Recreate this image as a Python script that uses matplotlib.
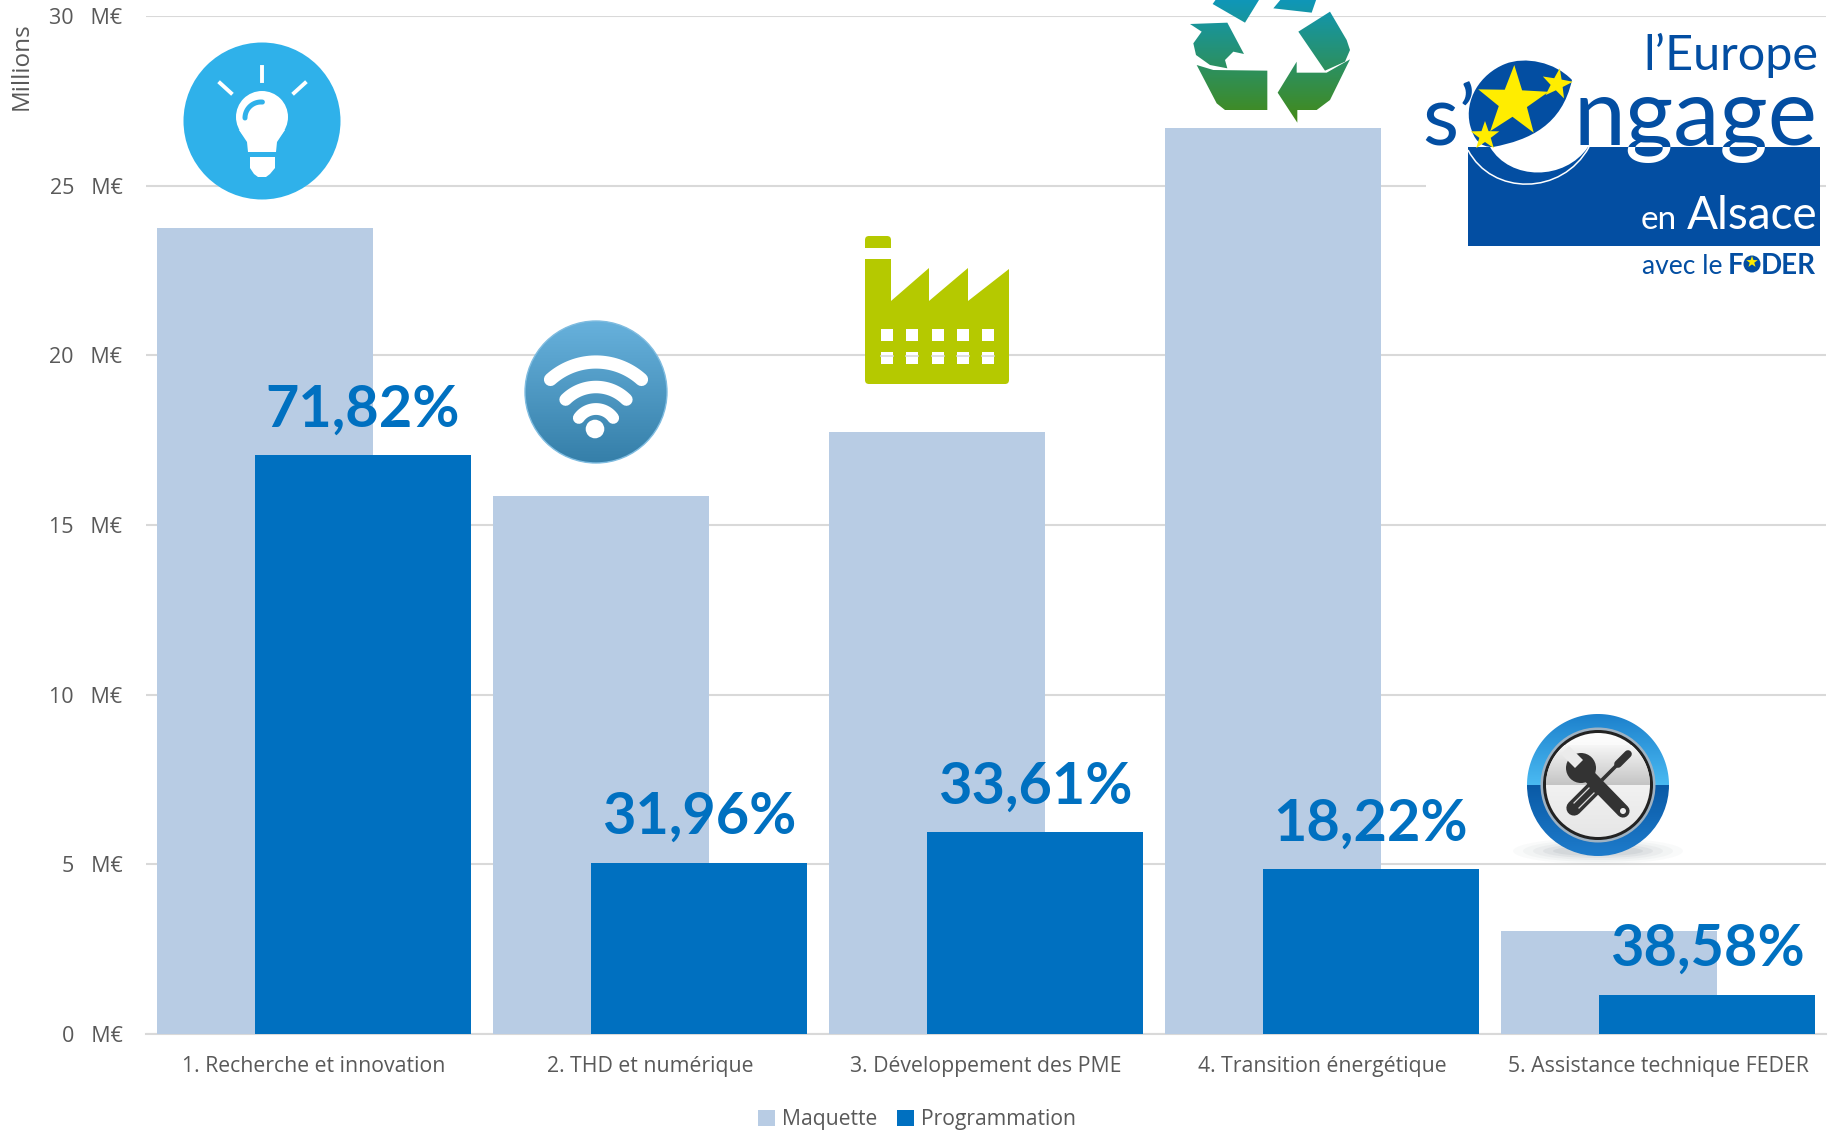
"""Maquette vs programmation FEDER par axe, with hand-drawn icons and logo."""
import matplotlib

matplotlib.use("Agg")
import matplotlib.pyplot as plt  # noqa: E402
import numpy as np  # noqa: E402
from matplotlib.patches import Circle, Ellipse, FancyBboxPatch, PathPatch, Polygon, Rectangle  # noqa: E402
from matplotlib.path import Path  # noqa: E402

CATEGORIES = ["1. Recherche et innovation", "2. THD et numérique", "3. Développement des PME",
              "4. Transition énergétique", "5. Assistance technique FEDER"]
MAQUETTE = [23.75, 15.85, 17.75, 26.7, 3.03]
PROGRAMMATION = [17.07, 5.05, 5.95, 4.87, 1.16]
TAUX = ["71,82%", "31,96%", "33,61%", "18,22%", "38,58%"]
YTICKS = [0, 5, 10, 15, 20, 25, 30]

FONT = "Open Sans"
GREY = "#595959"
LIGHT = "#B8CCE4"
DARK = "#0070C0"
LOGO = "#034EA2"
YELLOW = "#FFED00"

W, H = 1832, 1130
plt.rcParams["font.family"] = [FONT, "DejaVu Sans"]


def gradient(ax, x0, x1, y0, y1, top, bottom, clip, zorder=3):
    """Vertical colour gradient clipped to a patch, in overlay pixel coords."""
    c0, c1 = np.array(matplotlib.colors.to_rgb(top)), np.array(matplotlib.colors.to_rgb(bottom))
    t = np.linspace(0, 1, 128)[:, None, None]
    img = c0[None, None, :] * (1 - t) + c1[None, None, :] * t
    clip.set_facecolor("none")
    clip.set_edgecolor("none")
    ax.add_patch(clip)
    im = ax.imshow(img, extent=(x0, x1, y1, y0), aspect="auto", zorder=zorder)
    im.set_clip_path(clip)


def half_disc(cx, cy, r):
    """Upper half of a disc (the overlay y axis points down)."""
    th = np.linspace(np.pi, 2 * np.pi, 80)
    return Polygon(np.c_[cx + r * np.cos(th), cy + r * np.sin(th)])


def star(ax, cx, cy, r, color=YELLOW, rot=0.0, zorder=5):
    a = np.deg2rad(rot - 90 + np.arange(10) * 36)
    rad = np.where(np.arange(10) % 2 == 0, r, r * 0.4)
    ax.add_patch(Polygon(np.c_[cx + rad * np.cos(a), cy + rad * np.sin(a)], fc=color, ec="none", zorder=zorder))


def draw_bulb(ax):
    cx, cy = 262, 121
    ax.add_patch(Circle((cx, cy), 78.5, fc="#2FB1EA", ec="none", zorder=3))
    ax.add_patch(Circle((cx, 117), 26, fc="white", ec="none", zorder=4))
    ax.add_patch(Polygon([(239, 130), (285, 130), (277, 142), (276, 152), (248, 152), (247, 142)],
                         fc="white", ec="none", zorder=4))
    ax.add_patch(Polygon([(250, 157), (275, 157), (275, 168), (270, 174), (266, 177), (258, 177), (254, 174), (250, 168)],
                         fc="white", ec="none", zorder=4))
    th = np.deg2rad(np.linspace(180, 275, 30))
    ax.plot(cx + 16 * np.cos(th) - 1, 118 + 16 * np.sin(th), color="#2FB1EA", lw=3.6, solid_capstyle="round", zorder=5)
    for seg in [((262, 67), (262, 81)), ((220, 83), (231, 93)), ((305, 83), (294, 93))]:
        ax.plot(*zip(*seg), color="white", lw=2.8, zorder=4)


def draw_wifi(ax):
    cx, cy = 596, 430
    gradient(ax, 525, 667, 321, 463, "#67B1DC", "#357FA9", Circle((596, 392), 71))
    ax.add_patch(Circle((596, 392), 71, fc="none", ec="#7FBCE0", lw=1, zorder=4))
    for r, lw, a0 in [(68, 9.5, 228), (43, 9, 225), (21, 8.5, 215)]:
        th = np.deg2rad(np.linspace(a0, 540 - a0, 40))
        ax.plot(cx + r * np.cos(th), cy + r * np.sin(th), color="white", lw=lw, solid_capstyle="round", zorder=5)
    ax.add_patch(Circle((595, 429), 9.3, fc="white", ec="none", zorder=5))


def draw_factory(ax):
    col = "#B5C900"
    pts = [(865, 259), (891, 259), (891, 301), (929, 268), (929, 301), (968, 268), (968, 301), (1009, 269),
           (1009, 372), (865, 372)]
    ax.add_patch(Polygon(pts, fc=col, ec="none", zorder=3))
    ax.add_patch(FancyBboxPatch((869, 350), 136, 30, boxstyle="round,pad=4", fc=col, ec="none", zorder=3))
    ax.add_patch(FancyBboxPatch((869, 240), 18, 4, boxstyle="round,pad=4", fc=col, ec="none", zorder=3))
    ax.add_patch(Rectangle((865, 243), 26, 5, fc=col, ec="none", zorder=3))
    for wx in [881, 906, 932, 957, 982]:
        for wy in [329, 352]:
            ax.add_patch(Rectangle((wx, wy), 12, 11.5, fc="white", ec="none", zorder=4))
        ax.plot([wx, wx + 12], [356, 356], color="#D9D9D9", lw=1.2, zorder=4.1)


def draw_recycle(ax):
    pieces = [
        [(128, 12), (140, -5), (270, -5), (225, 68)],
        [(310, 25), (335, -5), (440, -5), (425, 38)],
        [(60, 72), (172, 68), (222, 162), (190, 155), (165, 180), (172, 205), (120, 195), (78, 165), (70, 130), (95, 95)],
        [(80, 195), (130, 210), (292, 212), (292, 330), (165, 330), (140, 310)],
        [(385, 95), (480, 35), (530, 120), (540, 150), (525, 185), (465, 212)],
        [(380, 185), (380, 218), (470, 218), (540, 178), (480, 300), (440, 330), (382, 330), (382, 368), (323, 278)],
    ]
    for p in pieces:
        pts = [(1170 + px / 3, py / 3) for px, py in p]
        gradient(ax, 1190, 1355, 0, 125, "#0F97B8", "#458A14", Polygon(pts))


def draw_tools(ax):
    cx, cy = 1598, 785
    for rx, ry, a in [(85, 13, 0.03), (75, 11, 0.04), (65, 9, 0.05), (55, 7, 0.07), (45, 5, 0.09)]:
        ax.add_patch(Ellipse((cx, 851), 2 * rx, 2 * ry, fc="#5A6A7A", ec="none", alpha=a, zorder=3))
    # ring: two-tone glossy blue, sharp change at mid height
    gradient(ax, cx - 72, cx + 72, cy, cy + 72, "#0A5AA6", "#1E7CCC", Circle((cx, cy), 71), zorder=4)
    gradient(ax, cx - 72, cx + 72, cy - 72, cy, "#1C80CC", "#4ABAF2", half_disc(cx, cy, 71), zorder=4.2)
    ax.add_patch(Circle((cx, cy), 57.5, fc="#9FB2C2", ec="none", zorder=5))
    ax.add_patch(Circle((cx, cy), 55, fc="#222222", ec="none", zorder=5.05))
    gradient(ax, cx - 54, cx + 54, cy - 53, cy + 53, "#FDFDFD", "#E6E6E6", Circle((cx, cy), 52), zorder=5.1)
    gradient(ax, cx - 54, cx + 54, cy - 40, cy, "#F6F6F6", "#C4C4C4", half_disc(cx, cy, 52), zorder=5.2)
    dark = "#333333"
    # screwdriver
    ax.plot([1603, 1624], [779, 758], color=dark, lw=2.6, zorder=6)
    ax.plot([1618, 1628], [764, 754], color=dark, lw=5.5, solid_capstyle="round", zorder=6)
    ax.plot([1574, 1594], [808, 788], color=dark, lw=11, solid_capstyle="round", zorder=6)
    ax.plot([1574, 1589], [803, 788], color="#DDDDDD", lw=0.9, zorder=6.1)
    ax.plot([1579, 1594], [808, 793], color="#DDDDDD", lw=0.9, zorder=6.1)
    # wrench
    ax.plot([1585, 1623], [772, 811], color=dark, lw=9.5, solid_capstyle="round", zorder=6.2)
    ax.add_patch(Circle((1581, 768), 15, fc=dark, ec="none", zorder=6.2))
    ax.add_patch(Polygon([(1583, 760), (1575, 768), (1561, 754), (1569, 746)], fc="#EBEBEB", ec="none", zorder=6.3))
    ax.add_patch(Circle((1623, 811), 3, fc="#EEEEEE", ec="none", zorder=6.4))


def draw_logo(ax):
    logo_font = ["Lato", "DejaVu Sans"]
    ax.add_patch(Rectangle((1426, 24), 394, 270, fc="white", ec="none", zorder=2.5))
    ax.add_patch(Rectangle((1468, 147), 352, 99, fc=LOGO, ec="none", zorder=3))
    ax.text(1818, 70, "l’Europe", color=LOGO, fontsize=35, ha="right", va="baseline", zorder=6, family=logo_font)
    ax.text(1476, 145, "s’", color=LOGO, fontsize=60, ha="right", va="baseline", zorder=6, family=logo_font)
    above = Rectangle((1426, 24), 394, 123, transform=ax.transData)
    below = Rectangle((1426, 147), 394, 99, transform=ax.transData)
    for clip, col in [(above, LOGO), (below, "white")]:
        t = ax.text(1817, 145, "ngage", color=col, fontsize=67, ha="right", va="baseline", zorder=6, family=logo_font)
        t.set_clip_path(clip)
        t.set_clip_on(True)
    # white part of the e and the thin outer line under it
    inner = Path([(1490, 147), (1510, 181), (1565, 181), (1588, 147), (1490, 147)],
                 [Path.MOVETO, Path.CURVE4, Path.CURVE4, Path.CURVE4, Path.CLOSEPOLY])
    ax.add_patch(PathPatch(inner, fc="white", ec="none", zorder=4))
    outer = Path([(1468, 150), (1492, 196), (1562, 196), (1589, 147)],
                 [Path.MOVETO, Path.CURVE4, Path.CURVE4, Path.CURVE4])
    ax.add_patch(PathPatch(outer, fc="none", ec="white", lw=1.1, zorder=4))
    leaf = Path([(1572, 80), (1555, 62), (1525, 56), (1505, 64), (1480, 74), (1464, 100), (1470, 125),
                 (1474, 140), (1480, 147), (1493, 147), (1530, 140), (1562, 125), (1572, 80), (1572, 80)],
                [Path.MOVETO, Path.CURVE4, Path.CURVE4, Path.CURVE4, Path.CURVE4, Path.CURVE4, Path.CURVE4,
                 Path.CURVE4, Path.CURVE4, Path.CURVE4, Path.CURVE4, Path.CURVE4, Path.CURVE4, Path.CLOSEPOLY])
    ax.add_patch(PathPatch(leaf, fc=LOGO, ec="none", zorder=5))
    star(ax, 1513, 102, 37, rot=2, zorder=5.5)
    star(ax, 1557, 84, 16, rot=10, zorder=5.5)
    star(ax, 1485, 136, 15, rot=0, zorder=5.5)
    ax.text(1677, 229, "en", color="white", fontsize=24, ha="right", va="baseline", zorder=6, family=logo_font)
    ax.text(1817, 229, "Alsace", color="white", fontsize=33, ha="right", va="baseline", zorder=6, family=logo_font)
    ax.text(1722, 274, "avec le", color=LOGO, fontsize=19, ha="right", va="baseline", zorder=6, family=logo_font)
    ax.text(1743, 274, "F", color=LOGO, fontsize=20, fontweight="bold", ha="right", va="baseline", zorder=6, family=logo_font)
    ax.text(1816, 274, "DER", color=LOGO, fontsize=20, fontweight="bold", ha="right", va="baseline", zorder=6, family=logo_font)
    ax.add_patch(Circle((1752, 264), 8.5, fc=LOGO, ec="none", zorder=6))
    star(ax, 1752, 262, 6, zorder=6.5)


def main() -> None:
    fig = plt.figure(figsize=(W / 100, H / 100), dpi=100)
    ax = fig.add_axes([146 / W, 1 - 1034 / H, 1680 / W, 1018 / H])
    x = np.arange(len(CATEGORIES))
    w = 0.645
    off = 0.146
    b1 = ax.bar(x - off, MAQUETTE, w, color=LIGHT, label="Maquette", zorder=2)
    b2 = ax.bar(x + off, PROGRAMMATION, w, color=DARK, label="Programmation", zorder=2.1)
    for xi, v, lab in zip(x, PROGRAMMATION, TAUX):
        ax.annotate(lab, (xi + off, v), xytext=(0, 20.5), textcoords="offset points", ha="center", va="baseline",
                    color=DARK, fontsize=41.5, fontweight="bold", zorder=7, family=["Lato", "DejaVu Sans"])
    ax.set_xlim(-0.5, 4.5)
    ax.set_ylim(0, 30)
    ax.set_yticks(YTICKS)
    ax.set_yticklabels([f"{v}   M€" for v in YTICKS], fontsize=15.5, color=GREY)
    ax.set_xticks(x)
    ax.set_xticklabels(CATEGORIES, fontsize=15.3, color=GREY)
    ax.tick_params(axis="both", length=0)
    ax.tick_params(axis="y", pad=17)
    ax.tick_params(axis="x", pad=16)
    ax.grid(True, axis="y", color="#D9D9D9", lw=1.5, zorder=0)
    ax.set_axisbelow(True)
    for s in ["top", "right", "left"]:
        ax.spines[s].set_visible(False)
    ax.spines["bottom"].set_color("#D9D9D9")
    ax.spines["bottom"].set_linewidth(1.5)
    ax.spines["bottom"].set_zorder(1)
    fig.text(22 / W, 1 - 66 / H, "Millions", rotation=90, ha="center", va="center", fontsize=17.5, color=GREY)
    fig.legend(handles=[b1, b2], loc="center", bbox_to_anchor=(917 / W, 1 - 1120 / H), ncol=2, frameon=False,
               fontsize=15.2, handlelength=0.8, handleheight=0.8, handletextpad=0.35, columnspacing=0.9,
               labelcolor=GREY, borderpad=0)

    # overlay in pixel coordinates for the pictograms and the logo
    over = fig.add_axes([0, 0, 1, 1], zorder=5)
    over.patch.set_alpha(0)
    over.axis("off")
    draw_logo(over)
    draw_bulb(over)
    draw_wifi(over)
    draw_factory(over)
    draw_recycle(over)
    draw_tools(over)
    over.set_xlim(0, W)
    over.set_ylim(H, 0)
    fig.savefig("out.png", dpi=100)


if __name__ == "__main__":
    main()
